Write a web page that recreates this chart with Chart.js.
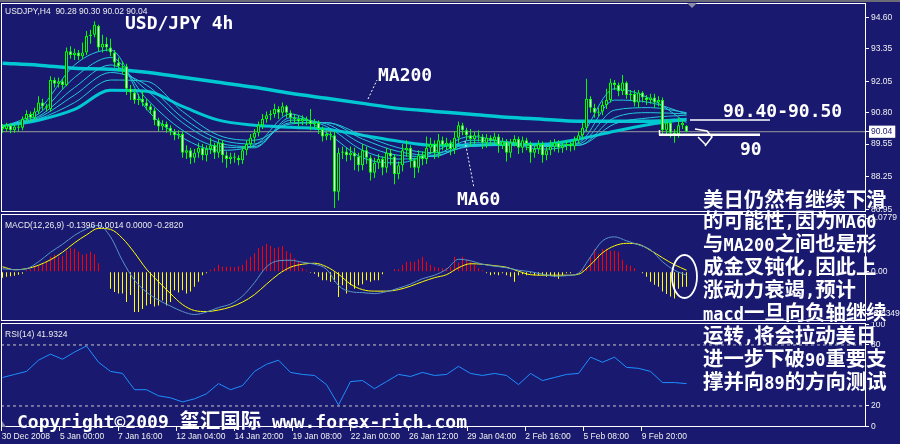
<!DOCTYPE html>
<html>
<head>
<meta charset="utf-8">
<script src="https://cdn.jsdelivr.net/npm/chart.js@4.4.1/dist/chart.umd.min.js"></script>
<style>
  html, body { margin: 0; padding: 0; }
  body { width: 900px; height: 444px; background: #191970; position: relative; overflow: hidden;
         font-family: 'Liberation Sans', Arial, sans-serif; }
  canvas { position: absolute; left: 0; }
  #mainChart { top: 0; }
  #macdChart { top: 213px; }
  #rsiChart  { top: 322px; }
  .topband { position: absolute; left: 0; top: 0; width: 900px; height: 2px; background: #6c6c78; }
  .small { position: absolute; left: 5px; color: #ececec; font-size: 8.5px; line-height: 10px; white-space: nowrap; }
  .big { position: absolute; color: #fff; font: bold 18px 'DejaVu Sans Mono', monospace; line-height: 18px; white-space: nowrap; }
  .big .cjk { font: bold 20.4px 'Noto Sans CJK SC', sans-serif; }
  #note { position: absolute; left: 703px; top: 188px; color: #fff; font: bold 20.4px 'Noto Sans CJK SC', sans-serif;
          line-height: 21.2px; white-space: nowrap; }
  #note .hw { font: bold 17px 'DejaVu Sans Mono', monospace; }
  svg { position: absolute; left: 0; top: 0; }
</style>
</head>
<body>
<div class="topband"></div>
<canvas id="mainChart" width="900" height="213"></canvas>
<canvas id="macdChart" width="900" height="109"></canvas>
<canvas id="rsiChart" width="900" height="122"></canvas>

<svg width="900" height="444">
  <polygon points="687,3 697,3 692,8" fill="#8c8ca4"/>
  <polygon points="2,421 2,427 6,427" fill="#8c8ca4"/>
  <line x1="368" y1="99" x2="377" y2="80" stroke="#fff" stroke-width="1" stroke-dasharray="2,2"/>
  <line x1="465" y1="141" x2="474" y2="188" stroke="#fff" stroke-width="1" stroke-dasharray="2,2"/>
  <line x1="690" y1="120" x2="770" y2="120" stroke="#fff" stroke-width="1.5"/>
  <line x1="659" y1="134.7" x2="760" y2="134.7" stroke="#fff" stroke-width="2.5"/>
  <line x1="659.5" y1="130" x2="659.5" y2="135" stroke="#fff" stroke-width="1.5"/>
  <path d="M695,129 L707,131 L712,137 L705,146 M698,137 L706,145" stroke="#fff" stroke-width="1.5" fill="none"/>
  <ellipse cx="684.5" cy="276.5" rx="12.5" ry="21.5" stroke="#fff" stroke-width="1.8" fill="none"/>
</svg>

<div class="small" style="top:6px">USDJPY,H4&nbsp; 90.28 90.30 90.02 90.04</div>
<div class="small" style="top:219.5px">MACD(12,26,9) -0.1396 0.0014 0.0000 -0.2820</div>
<div class="small" style="top:329px">RSI(14) 41.9324</div>

<div class="big" style="left:125px; top:14px">USD/JPY 4h</div>
<div class="big" style="left:378px; top:66px">MA200</div>
<div class="big" style="left:457px; top:190px">MA60</div>
<div class="big" style="left:723px; top:102px">90.40-90.50</div>
<div class="big" style="left:740px; top:140px">90</div>
<div class="big" style="left:17px; top:404px">Copyright©2009 <span class="cjk">玺汇国际</span> www.forex-rich.com</div>
<div id="note"></div>

<script>
/* USD/JPY 4h — price, MACD and RSI panes */

// ── Data ───────────────────────────────────────────────────────────────────

const candleOpen = [
  90.25, 90.15, 90.30, 90.10, 90.25, 90.20, 90.55, 90.75, 90.60, 90.85,
  91.20, 91.05, 90.95, 92.10, 91.95, 92.05, 91.90, 93.25, 93.10, 93.20,
  93.05, 93.20, 93.85, 93.90, 94.25, 93.40, 93.55, 93.40, 93.20, 92.80,
  92.65, 92.65, 91.75, 91.60, 91.30, 91.35, 91.20, 91.05, 90.90, 90.50,
  90.25, 90.35, 90.20, 90.05, 89.90, 89.95, 89.20, 89.30, 89.00, 89.20,
  89.40, 89.10, 89.35, 89.50, 89.20, 89.60, 89.10, 88.95, 89.05, 89.00,
  88.90, 89.30, 89.55, 89.80, 90.00, 90.30, 90.55, 90.70, 90.75, 90.95,
  90.80, 91.05, 90.80, 90.60, 90.55, 90.45, 90.55, 90.50, 90.35, 90.40,
  90.15, 89.85, 89.95, 89.90, 87.65, 89.20, 89.25, 89.10, 89.20, 89.05,
  88.70, 89.30, 89.00, 88.40, 88.80, 88.95, 88.60, 89.20, 89.05, 88.35,
  88.70, 89.30, 89.40, 88.90, 88.60, 89.10, 88.95, 89.40, 89.55, 89.20,
  89.70, 89.50, 89.60, 89.35, 89.80, 90.30, 90.10, 89.90, 89.75, 89.90,
  89.85, 89.60, 89.80, 89.70, 89.85, 89.50, 89.65, 89.20, 89.60, 89.75,
  89.40, 89.70, 89.55, 89.20, 89.35, 89.55, 89.10, 89.30, 89.45, 89.60,
  89.40, 89.50, 89.55, 89.45, 89.70, 89.90, 90.20, 91.35, 91.00, 90.80,
  90.85, 91.10, 91.30, 92.00, 91.90, 91.65, 92.00, 91.50, 91.55, 91.20,
  91.60, 91.40, 91.30, 91.40, 91.20, 91.30, 90.10, 90.40, 90.00, 89.95,
  90.30, 90.28
];
const candleHigh = [
  90.35, 90.40, 90.38, 90.35, 90.32, 90.65, 90.90, 90.85, 91.00, 91.45,
  91.35, 91.15, 92.25, 92.20, 92.20, 92.15, 93.40, 93.45, 93.35, 93.30,
  93.60, 94.05, 94.10, 94.44, 94.30, 93.90, 93.80, 93.75, 93.30, 93.00,
  92.85, 92.75, 91.90, 91.75, 91.55, 91.65, 91.35, 91.15, 91.00, 90.60,
  90.50, 90.45, 90.30, 90.15, 90.10, 90.05, 89.50, 89.40, 89.35, 89.60,
  89.55, 89.50, 89.80, 89.60, 89.75, 89.70, 89.25, 89.20, 89.20, 89.10,
  89.45, 89.70, 89.95, 90.15, 90.45, 90.75, 90.85, 90.90, 91.15, 91.05,
  91.20, 91.10, 90.90, 90.75, 90.70, 90.70, 90.65, 90.95, 90.55, 90.50,
  90.25, 90.10, 90.05, 90.05, 89.40, 89.45, 89.40, 89.45, 89.40, 89.20,
  89.55, 89.45, 89.10, 89.00, 89.15, 89.05, 89.40, 89.35, 89.15, 88.85,
  89.55, 89.70, 89.50, 89.00, 89.30, 89.25, 89.85, 89.80, 89.70, 89.95,
  89.85, 89.80, 89.70, 90.05, 90.45, 90.40, 90.20, 90.15, 90.05, 90.10,
  89.95, 89.95, 89.90, 90.00, 89.95, 89.80, 89.75, 89.75, 89.90, 89.85,
  89.85, 89.80, 89.65, 89.50, 89.70, 89.65, 89.45, 89.70, 89.75, 89.70,
  89.65, 89.70, 89.65, 89.85, 90.05, 90.40, 92.15, 91.45, 91.15, 91.00,
  91.25, 91.75, 92.15, 92.10, 92.00, 92.30, 92.05, 91.70, 91.70, 91.70,
  91.65, 91.50, 91.55, 91.55, 91.45, 91.40, 90.55, 90.50, 90.15, 90.60,
  90.50, 90.30
];
const candleLow = [
  90.00, 90.05, 89.98, 90.00, 90.05, 90.10, 90.45, 90.45, 90.50, 90.75,
  90.90, 90.85, 90.85, 91.80, 91.80, 91.75, 91.85, 92.95, 92.90, 92.90,
  92.95, 93.10, 93.55, 93.80, 93.25, 93.20, 93.25, 93.05, 92.60, 92.45,
  92.35, 91.50, 91.30, 91.15, 91.10, 91.05, 90.90, 90.75, 90.30, 90.05,
  90.10, 90.00, 89.90, 89.70, 89.75, 89.00, 88.95, 88.75, 88.80, 89.00,
  88.90, 88.85, 89.15, 88.95, 89.00, 88.80, 88.60, 88.75, 88.80, 88.70,
  88.75, 89.10, 89.40, 89.60, 89.85, 90.15, 90.40, 90.50, 90.60, 90.55,
  90.65, 90.60, 90.40, 90.35, 90.25, 90.30, 90.30, 90.10, 90.20, 89.95,
  89.65, 89.70, 89.70, 87.00, 87.30, 88.95, 88.85, 88.90, 88.50, 88.45,
  88.50, 88.75, 88.10, 88.20, 88.55, 88.30, 88.40, 88.70, 87.95, 88.15,
  88.45, 89.05, 88.60, 88.20, 88.40, 88.70, 88.75, 89.15, 88.95, 89.00,
  89.30, 89.30, 89.10, 89.15, 89.60, 89.90, 89.70, 89.45, 89.55, 89.65,
  89.35, 89.40, 89.50, 89.55, 89.20, 89.35, 88.85, 89.00, 89.45, 89.15,
  89.20, 89.30, 88.80, 89.00, 89.15, 88.80, 88.90, 89.10, 89.25, 89.20,
  89.20, 89.30, 89.25, 89.30, 89.55, 89.75, 90.05, 90.80, 90.60, 90.65,
  90.70, 90.95, 91.20, 91.70, 91.45, 91.50, 91.35, 91.30, 91.05, 91.00,
  91.20, 91.10, 91.15, 91.00, 91.05, 89.95, 89.95, 89.80, 89.60, 89.80,
  90.15, 90.02
];
const candleClose = [
  90.15, 90.30, 90.10, 90.25, 90.20, 90.55, 90.75, 90.60, 90.85, 91.20,
  91.05, 91.00, 92.10, 91.95, 92.05, 91.90, 93.25, 93.10, 93.20, 93.05,
  93.20, 93.85, 93.90, 94.30, 93.40, 93.55, 93.40, 93.20, 92.80, 92.65,
  92.60, 91.75, 91.60, 91.30, 91.35, 91.20, 91.05, 90.90, 90.50, 90.25,
  90.35, 90.20, 90.05, 89.90, 89.95, 89.20, 89.30, 89.00, 89.20, 89.40,
  89.10, 89.35, 89.50, 89.20, 89.60, 89.10, 88.95, 89.05, 89.00, 88.90,
  89.30, 89.55, 89.80, 90.00, 90.30, 90.55, 90.70, 90.75, 90.95, 90.80,
  91.05, 90.80, 90.60, 90.55, 90.45, 90.55, 90.50, 90.35, 90.40, 90.15,
  89.85, 89.95, 89.90, 87.65, 89.20, 89.25, 89.10, 89.20, 89.05, 88.70,
  89.30, 89.00, 88.40, 88.80, 88.95, 88.60, 89.20, 89.05, 88.35, 88.70,
  89.30, 89.40, 88.90, 88.60, 89.10, 88.95, 89.40, 89.55, 89.20, 89.70,
  89.50, 89.60, 89.35, 89.80, 90.30, 90.10, 89.90, 89.75, 89.90, 89.85,
  89.60, 89.80, 89.70, 89.85, 89.50, 89.65, 89.20, 89.60, 89.75, 89.40,
  89.70, 89.55, 89.20, 89.35, 89.55, 89.10, 89.30, 89.45, 89.60, 89.40,
  89.50, 89.55, 89.45, 89.70, 89.90, 90.20, 91.35, 91.00, 90.80, 90.85,
  91.10, 91.30, 92.00, 91.90, 91.65, 92.00, 91.50, 91.55, 91.20, 91.60,
  91.40, 91.30, 91.40, 91.20, 91.30, 90.10, 90.40, 90.00, 89.95, 90.30,
  90.40, 90.04
];

// moving averages, one value every MA_STEP bars
const MA_STEP = 9;
const ma200 = [92.77, 92.69, 92.57, 92.53, 92.41, 92.21, 92.01, 91.81, 91.57, 91.37,
               91.17, 90.97, 90.85, 90.74, 90.62, 90.54, 90.46, 90.46, 90.46, 90.52];
const ma60  = [90.26, 90.50, 90.93, 91.69, 91.65, 91.05, 90.50, 90.30, 90.22, 90.14,
               89.90, 89.66, 89.50, 89.50, 89.54, 89.54, 89.74, 90.06, 90.34, 90.54];
const maFast1 = [90.22, 90.90, 92.70, 93.30, 90.95, 89.80, 89.30, 89.50, 90.75, 90.00,
                 89.00, 88.80, 89.25, 89.85, 89.60, 89.35, 89.75, 91.75, 91.35, 90.40];
const maFast2 = [90.24, 90.75, 92.20, 93.00, 91.35, 90.10, 89.45, 89.40, 90.60, 90.25,
                 89.30, 88.95, 89.10, 89.70, 89.65, 89.45, 89.60, 91.30, 91.20, 90.75];
const maFast3 = [90.25, 90.65, 91.80, 92.70, 91.70, 90.40, 89.60, 89.45, 90.50, 90.35,
                 89.55, 89.10, 89.05, 89.60, 89.60, 89.50, 89.55, 90.90, 91.00, 90.80];
const maFast4 = [90.26, 90.60, 91.50, 92.40, 91.90, 90.60, 89.75, 89.55, 90.40, 90.40,
                 89.75, 89.25, 89.10, 89.50, 89.55, 89.50, 89.50, 90.60, 90.80, 90.75];
const maFast5 = [90.27, 90.55, 91.20, 92.10, 92.05, 90.85, 89.90, 89.70, 90.35, 90.40,
                 89.90, 89.40, 89.20, 89.45, 89.50, 89.50, 89.50, 90.35, 90.60, 90.70];

const lastPrice  = 90.04;
const priceTicks = [94.60, 93.35, 92.05, 90.80, 90.04, 89.55, 88.25, 86.95];

const macdHist = [
  -0.12, -0.10, -0.09, -0.08, -0.06, -0.04, 0.03, 0.05, 0.10, 0.12,
  0.15, 0.20, 0.30, 0.34, 0.30, 0.32, 0.42, 0.47, 0.46, 0.40,
  0.34, 0.36, 0.40, 0.35, 0.17, 0, 0, -0.34, -0.41, -0.44,
  -0.44, -0.61, -0.47, -0.81, -0.81, -0.75, -0.68, -0.65, -0.70, -0.68,
  -0.58, -0.68, -0.61, -0.37, -0.42, -0.37, -0.44, -0.40, -0.30, -0.20,
  -0.07, -0.03, 0.04, 0.07, 0.14, 0.10, 0.10, 0.10, 0.09, 0.11,
  0.14, 0.24, 0.30, 0.37, 0.47, 0.51, 0.56, 0.52, 0.47, 0.49,
  0.51, 0.41, 0.37, 0.27, 0.20, 0.07, 0.03, -0.02, -0.04, -0.10,
  -0.17, -0.17, -0.20, -0.20, -0.51, -0.27, -0.44, -0.27, -0.34, -0.27,
  -0.25, -0.17, -0.20, -0.17, -0.17, -0.05, 0.01, 0, 0.05, 0.05,
  0.14, 0.20, 0.20, 0.20, 0.25, 0.30, 0.20, 0.14, 0.10, 0.08,
  0.07, 0.07, 0.10, 0.30, 0.18, 0.30, 0.24, 0.20, 0.14, 0.07,
  0.03, -0.03, -0.07, -0.05, -0.07, -0.03, -0.07, -0.10, -0.20, -0.07,
  -0.05, -0.07, -0.03, -0.07, -0.07, -0.07, -0.10, -0.07, -0.10, -0.14,
  -0.07, -0.03, -0.03, 0, 0.01, 0.05, 0.10, 0.30, 0.45, 0.36,
  0.45, 0.46, 0.42, 0.42, 0.40, 0.24, 0.14, 0.12, 0.07, 0,
  -0.03, -0.10, -0.20, -0.26, -0.30, -0.40, -0.45, -0.50, -0.54, -0.34,
  -0.30, -0.30
];

// indicator lines, one value every IND_STEP bars
const IND_STEP = 3;
const macdMain = [
  0.06, 0.04, 0.06, 0.20, 0.39, 0.55, 0.73, 0.86, 0.93, 0.70,
  0.22, -0.17, -0.41, -0.57, -0.69, -0.80, -0.86, -0.81, -0.72, -0.65,
  -0.49, -0.22, 0.10, 0.22, 0.23, 0.19, 0.15, 0.05, -0.28, -0.40,
  -0.42, -0.44, -0.40, -0.33, -0.25, -0.14, -0.07, 0.05, 0.25, 0.22,
  0.15, 0.11, 0.08, 0.03, 0.00, -0.05, -0.09, -0.08, -0.03, 0.30,
  0.62, 0.70, 0.62, 0.54, 0.44, 0.20, 0.03, -0.07
];
const macdSignal = [
  0.10, 0.04, 0.06, 0.13, 0.24, 0.39, 0.58, 0.74, 0.87, 0.85,
  0.67, 0.38, 0.05, -0.20, -0.44, -0.66, -0.78, -0.80, -0.77, -0.71,
  -0.61, -0.46, -0.25, -0.05, 0.09, 0.15, 0.17, 0.10, -0.05, -0.25,
  -0.36, -0.39, -0.39, -0.36, -0.29, -0.20, -0.12, -0.06, 0.08, 0.16,
  0.15, 0.12, 0.09, 0.01, -0.06, -0.07, -0.07, -0.07, -0.05, 0.14,
  0.38, 0.52, 0.57, 0.55, 0.43, 0.28, 0.14, 0.03
];
const macdTicks    = [1.0779, 0, -0.8349];
const macdTickText = ['1.0779', '0.00', '-0.8349'];

const rsiValues = [
  48, 51, 54, 65, 71, 66, 73, 79, 63, 54,
  52, 36, 36, 30, 28, 24, 27, 32, 42, 36,
  40, 54, 61, 65, 53, 51, 50, 41, 21, 44,
  45, 37, 44, 51, 49, 53, 50, 51, 59, 52,
  50, 52, 50, 41, 52, 45, 48, 51, 52, 68,
  63, 68, 58, 57, 54, 43, 43, 42
];
const rsiLevels = [80, 20];
const rsiTicks  = [100, 80, 20, 0];

const timeLabels = ['30 Dec 2008', '5 Jan 00:00', '7 Jan 16:00', '12 Jan 04:00', '14 Jan 20:00',
                    '19 Jan 08:00', '22 Jan 00:00', '26 Jan 12:00', '29 Jan 04:00', '2 Feb 16:00',
                    '5 Feb 08:00', '9 Feb 20:00'];

const noteLines = ['美日仍然有继续下滑', '的可能性,因为MA60', '与MA200之间也是形', '成金叉钝化,因此上',
                   '涨动力衰竭,预计', 'macd一旦向负轴继续', '运转,将会拉动美日', '进一步下破90重要支',
                   '撑并向89的方向测试'];

// ── Style ──────────────────────────────────────────────────────────────────

const BG     = '#191970';
const FG     = '#ffffff';
const LABEL  = '#f0f0f0';
const LIME   = '#00ff00';
const CYAN   = '#00c8d2';
const RIBBON = '#22c8da';
const AXIS_W = 34;
const X_MIN  = -0.375;
const X_MAX  = X_MIN + 865 / 4;
const TICK_FONT = { family: "'Liberation Sans', Arial, sans-serif", size: 8.5 };
const SMOOTH = { cubicInterpolationMode: 'monotone' };

Chart.defaults.animation = false;
Chart.defaults.events = [];
Chart.defaults.plugins.legend.display = false;
Chart.defaults.plugins.tooltip.enabled = false;

// ── Helpers ────────────────────────────────────────────────────────────────

const series = (vals, step) => vals.map((v, k) => ({ x: k * step, y: v }));
const hline  = (v) => [{ x: X_MIN, y: v }, { x: X_MAX, y: v }];

const line = (data, color, width, order, extra = {}) => ({
  type: 'line', data, borderColor: color, borderWidth: width,
  pointRadius: 0, fill: false, order, ...extra
});

const frame = {
  id: 'frame',
  afterDatasetsDraw(chart) {
    const { ctx, chartArea: a } = chart;
    ctx.save();
    ctx.strokeStyle = FG;
    ctx.lineWidth = 1;
    ctx.strokeRect(a.left + 0.5, a.top + 0.5, a.width - 1, a.height - 1);
    ctx.restore();
  }
};

// labels sit inside the panes, so the scales must not ask for extra room
const noPad = s => { s.paddingTop = s.paddingBottom = s.paddingLeft = s.paddingRight = 0; };

const xAxis = (display) => ({
  type: 'linear', min: X_MIN, max: X_MAX, offset: false, display,
  afterFit: s => { noPad(s); if (display) s.height = 17; },
  afterBuildTicks: s => { s.ticks = timeLabels.map((t, k) => ({ value: -0.2 + k * 14.545 })); },
  grid: { drawOnChartArea: false, offset: false, tickLength: 4, color: FG },
  border: { display: false },
  ticks: {
    autoSkip: false, maxRotation: 0, minRotation: 0, align: 'start', padding: 1,
    color: LABEL, font: TICK_FONT, callback: (v, i) => timeLabels[i]
  }
});

const yAxis = (min, max, values, fmt, extra = {}) => ({
  position: 'right', min, max,
  afterFit: s => { noPad(s); s.width = AXIS_W; },
  afterBuildTicks: s => { s.ticks = values.map(v => ({ value: v })); },
  grid: { drawOnChartArea: false, tickLength: 3, color: FG },
  border: { display: false },
  ticks: { autoSkip: false, padding: 2, color: LABEL, font: TICK_FONT, callback: fmt, ...extra }
});

// ── Price pane ─────────────────────────────────────────────────────────────

new Chart(document.getElementById('mainChart'), {
  type: 'bar',
  data: {
    datasets: [
      line(hline(lastPrice), '#9a9a9a', 1, 9),
      line(series(ma200, MA_STEP), CYAN, 3.5, 8, SMOOTH),
      line(series(ma60, MA_STEP), CYAN, 3, 8, SMOOTH),
      ...[maFast1, maFast2, maFast3, maFast4, maFast5].map(m => line(series(m, MA_STEP), RIBBON, 1, 7, SMOOTH)),
      {
        type: 'bar',
        data: candleLow.map((l, i) => ({ x: i, y: [l, candleHigh[i]] })),
        backgroundColor: LIME, barThickness: 1, inflateAmount: 0, grouped: false, order: 2
      },
      {
        type: 'bar',
        data: candleOpen.map((o, i) => ({ x: i, y: [o, candleClose[i]] })),
        backgroundColor: candleOpen.map((o, i) => candleClose[i] >= o ? BG : FG),
        borderColor: LIME, borderWidth: 1, borderSkipped: false,
        barThickness: 3, minBarLength: 1, inflateAmount: 0, grouped: false, order: 1
      }
    ]
  },
  options: {
    responsive: false,
    layout: { autoPadding: false, padding: { left: 1, top: 3, bottom: 1, right: 0 } },
    scales: {
      x: xAxis(false),
      y: yAxis(86.84, 95.17, priceTicks, v => v.toFixed(2), {
        color: ctx => ctx.tick && ctx.tick.value === lastPrice ? BG : LABEL,
        showLabelBackdrop: ctx => !!ctx.tick && ctx.tick.value === lastPrice,
        backdropColor: '#ffffff',
        backdropPadding: { left: 2, right: 3, top: 1, bottom: 1 }
      })
    }
  },
  plugins: [frame]
});

// ── MACD pane ──────────────────────────────────────────────────────────────

new Chart(document.getElementById('macdChart'), {
  type: 'bar',
  data: {
    datasets: [
      line(series(macdMain, IND_STEP), '#5a96c8', 1, 1, SMOOTH),
      line(series(macdSignal, IND_STEP), '#ffff00', 1, 1, SMOOTH),
      {
        type: 'bar',
        data: macdHist.map((v, i) => ({ x: i, y: v })),
        backgroundColor: macdHist.map(v => v >= 0 ? '#ff0000' : '#ffff00'),
        barThickness: 1, inflateAmount: 0, grouped: false, order: 3
      }
    ]
  },
  options: {
    responsive: false,
    layout: { autoPadding: false, padding: { left: 1, top: 1, bottom: 1, right: 0 } },
    scales: {
      x: xAxis(false),
      y: yAxis(-0.99, 1.159, macdTicks, (v, i) => macdTickText[i])
    }
  },
  plugins: [frame]
});

// ── RSI pane ───────────────────────────────────────────────────────────────

new Chart(document.getElementById('rsiChart'), {
  type: 'line',
  data: {
    datasets: [
      ...rsiLevels.map(lv => line(hline(lv), '#c8c8c8', 1, 2, { borderDash: [3, 3] })),
      line(series(rsiValues, IND_STEP), '#1e90ff', 1, 1, { tension: 0 })
    ]
  },
  options: {
    responsive: false,
    layout: { autoPadding: false, padding: { left: 1, top: 1, bottom: 0, right: 0 } },
    scales: {
      x: xAxis(true),
      y: yAxis(-0.69, 101.6, rsiTicks, v => String(v))
    }
  },
  plugins: [frame]
});

// ── Note ───────────────────────────────────────────────────────────────────

document.getElementById('note').innerHTML = noteLines
  .map(l => `<div>${l.replace(/([\x20-\x7e]+)/g, '<span class="hw">$1</span>')}</div>`)
  .join('');
</script>
</body>
</html>
